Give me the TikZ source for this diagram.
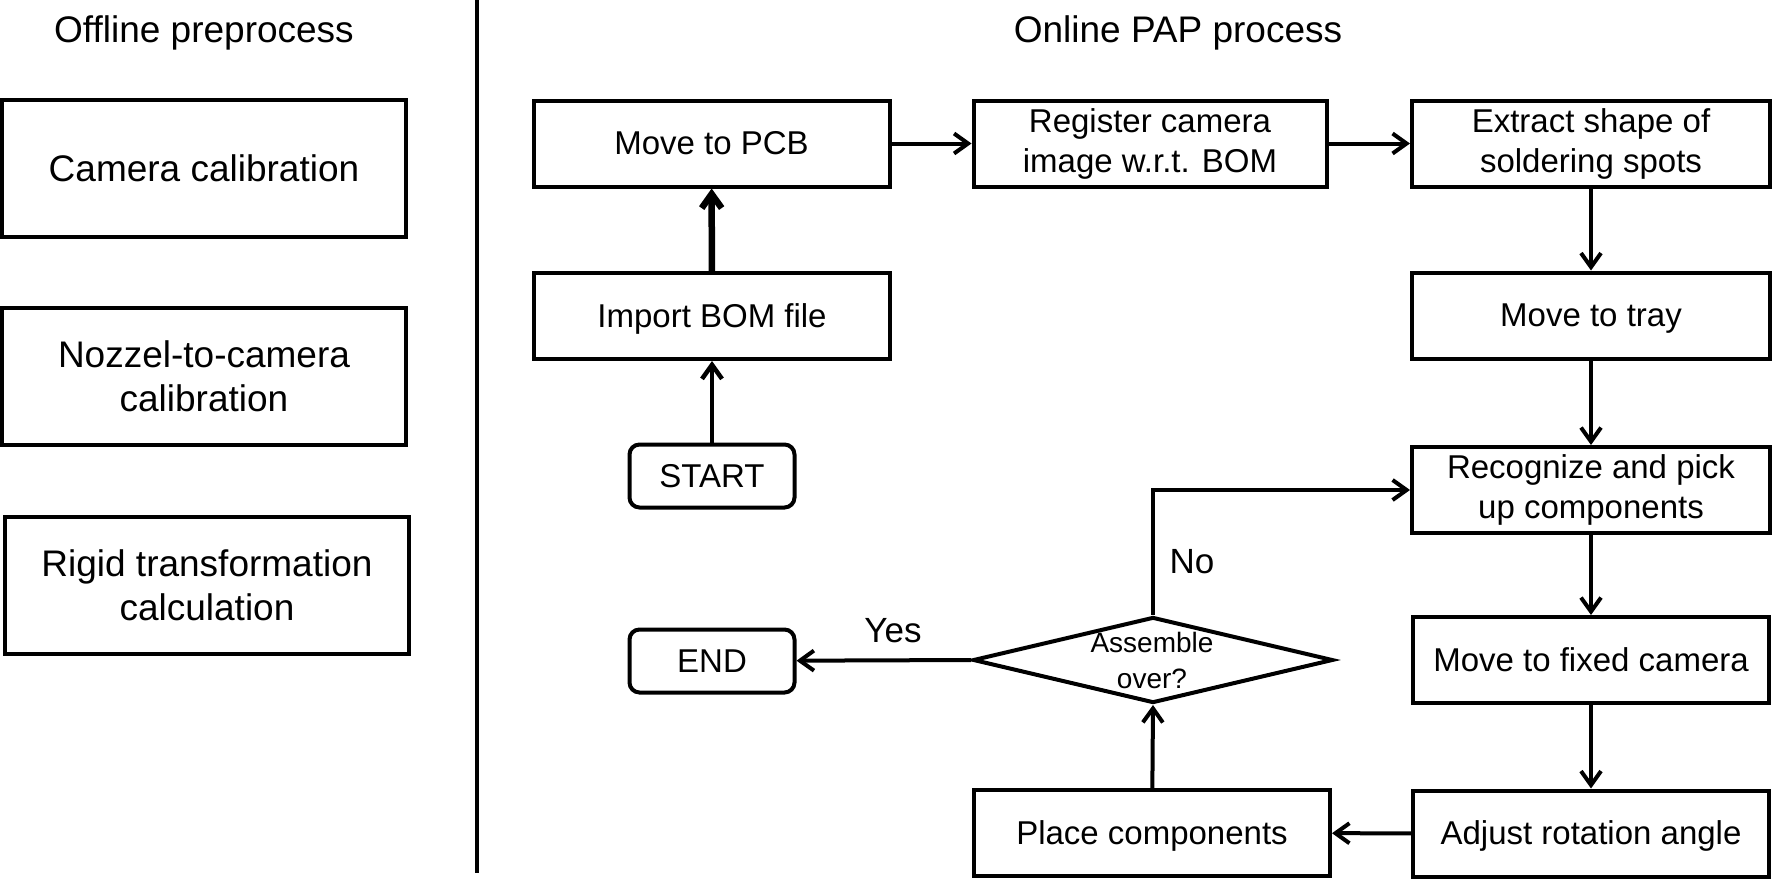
\documentclass[tikz,border=0pt]{standalone}
\usepackage{fontspec}
\setmainfont{Liberation Sans}
\usetikzlibrary{arrows.meta,shapes.geometric}
\begin{document}
\begin{tikzpicture}[x=0.5pt,y=-0.5pt,
  lw/.style={line width=2pt},
  offbox/.style={draw,lw,inner sep=0pt,minimum width=202pt,minimum height=68.5pt,align=center,font=\fontsize{18.5}{22}\selectfont},
  onbox/.style={draw,lw,inner sep=0pt,minimum width=178pt,minimum height=43pt,align=center,font=\fontsize{16.5}{20}\selectfont},
  oneline/.style={text height=11pt,text depth=0pt},
  termbox/.style={draw,lw,rounded corners=5pt,inner sep=0pt,minimum width=82.5pt,minimum height=31.5pt,font=\fontsize{16.5}{20}\selectfont},
  decision/.style={draw,lw,diamond,inner sep=0pt,minimum width=180pt,minimum height=43pt},
  title/.style={font=\fontsize{18.5}{22}\selectfont},
  lab/.style={font=\fontsize{17.5}{21}\selectfont},
  conn/.style={lw,-{Straight Barb[length=7pt,width=10pt]}}
]
\useasboundingbox (0,0) rectangle (1772,879);

% titles
\node[title] (toff) at (204,33) {Offline preprocess};
\node[title] (ton) at (1178,33) {Online PAP process};

% divider
\coordinate (dtop) at (476.5,0);
\coordinate (dbot) at (476.5,873);
\draw[lw] (dtop) -- (dbot);

% offline boxes
\node[offbox] (cam) at (204,168) {Camera calibration};
\node[offbox] (noz) at (204,376.5) {Nozzel-to-camera\\calibration};
\node[offbox] (rig) at (207,585.5) {Rigid transformation\\calculation};

% online boxes
\node[onbox,oneline] (pcb) at (711.5,143.5) {Move to PCB};
\node[onbox,minimum width=176.5pt] (reg) at (1150,143.5) {Register camera\\image w.r.t. BOM};
\node[onbox,minimum width=179pt] (ext) at (1591,143.5) {Extract shape of\\soldering spots};
\node[onbox,oneline] (bom) at (712,316) {Import BOM file};
\node[termbox] (start) at (712,476) {START};
\node[termbox] (end) at (712,661) {END};
\node[onbox,oneline,minimum width=179pt] (tray) at (1591,315.5) {Move to tray};
\node[onbox,minimum width=179pt] (rec) at (1591,490) {Recognize and pick\\up components};
\node[onbox,oneline,minimum width=178pt] (fix) at (1591,660) {Move to fixed camera};
\node[onbox,oneline,minimum width=178pt] (adj) at (1591,833.5) {Adjust rotation angle};
\node[onbox,oneline] (place) at (1152,833) {Place components};
\node[decision] (dia) at (1153,660) {};
\node[font=\fontsize{14}{18}\selectfont,align=center,inner sep=0pt] (diat) at (1152,660) {Assemble\\over?};

% connectors
\draw[conn,line width=2.25pt] (start) -- (bom);
\draw[conn,line width=3.25pt] (bom) -- (pcb);
\draw[conn] (pcb) -- (reg);
\draw[conn] (reg) -- (ext);
\draw[conn] (ext) -- (tray);
\draw[conn] (tray) -- (rec);
\draw[conn] (rec) -- (fix);
\draw[conn] (fix) -- (adj);
\draw[conn] (adj) -- (place);
\draw[conn] (place) -- (dia.south);
\draw[conn] (dia.west) -- (end);
\draw[conn] (dia.north) -- (dia.north |- rec.west) -- (rec.west);

% labels
\node[lab] (yes) at (893,631) {Yes};
\node[lab] (no) at (1192,562) {No};
\end{tikzpicture}
\end{document}
